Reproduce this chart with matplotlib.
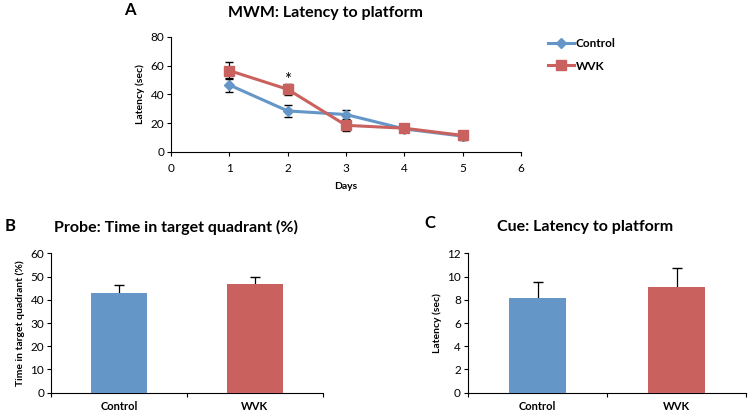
import matplotlib
matplotlib.use("Agg")
import matplotlib.pyplot as plt

plt.rcParams['font.family'] = ['Lato', 'DejaVu Sans']

# Panel A data
days = [1, 2, 3, 4, 5]
control_lat = [46.5, 28.5, 26, 16, 11]
control_err = [5, 4, 3, 2, 2]
wvk_lat = [56.5, 43.5, 18.5, 16.5, 11.5]
wvk_err = [6, 4, 4, 2.5, 3]

# Panel B / C data
groups = ['Control', 'WVK']
probe_vals = [43, 47]
probe_err = [3.5, 3]
cue_vals = [8.2, 9.1]
cue_err = [1.3, 1.6]

blue = '#6496c8'
red = '#c9625f'

fig = plt.figure(figsize=(7.51, 4.17), dpi=100)

def style(ax):
    ax.spines['top'].set_visible(False)
    ax.spines['right'].set_visible(False)
    ax.tick_params(direction='out', length=3, width=0.8, labelsize=8.5, pad=2)

# A
axA = fig.add_axes([0.2277, 0.6355, 0.466, 0.2765])
c1 = axA.errorbar(days, control_lat, yerr=control_err, color=blue, marker='D', markersize=5,
                  lw=2.2, ecolor='black', elinewidth=0.9, capsize=3, zorder=3)
c2 = axA.errorbar(days, wvk_lat, yerr=wvk_err, color=red, marker='s', markersize=7,
                  lw=2.2, ecolor='black', elinewidth=0.9, capsize=3, zorder=4)
axA.text(2, 50, '*', ha='center', va='center', fontsize=12)
axA.set_xlim(0, 6)
axA.set_ylim(0, 80)
axA.set_xticks(range(7))
axA.set_yticks(range(0, 81, 20))
axA.set_xlabel('Days', fontsize=7.5, fontweight='bold', labelpad=6)
axA.set_ylabel('Latency (sec)', fontsize=7.5, fontweight='bold', labelpad=4)
style(axA)
axA.tick_params(axis='x', pad=5)
leg = axA.legend([c1.lines[0], c2.lines[0]], ['Control', 'WVK'], loc='upper left',
                 bbox_to_anchor=(0.715, 0.935), bbox_transform=fig.transFigure,
                 frameon=False, fontsize=8.5, handlelength=2.2, labelspacing=1.0, handletextpad=0.2)
for t in leg.get_texts():
    t.set_fontweight('bold')
fig.text(0.433, 0.97, 'MWM: Latency to platform', ha='center', va='center', fontsize=11.5, fontweight='bold')
fig.text(0.173, 0.975, 'A', ha='center', va='center', fontsize=12, fontweight='bold')

# B and C
def bar_panel(rect, vals, errs, ymax, ystep, ylabel, title, title_x):
    ax = fig.add_axes(rect)
    x = [0.5, 1.5]
    ax.errorbar(x, vals, yerr=errs, fmt='none', ecolor='black', elinewidth=0.9,
                capsize=3.5, zorder=2)
    ax.bar(x, vals, width=0.41, color=[blue, red], zorder=3)
    ax.set_xlim(0, 2)
    ax.set_ylim(0, ymax)
    ax.set_yticks([i * ystep for i in range(int(round(ymax / ystep)) + 1)])
    ax.set_xticks([0, 1, 2])
    ax.set_xticklabels([])
    ax.set_xticks(x, minor=True)
    ax.set_xticklabels(groups, minor=True, fontsize=8, fontweight='bold')
    ax.set_ylabel(ylabel, fontsize=7.5, fontweight='bold', labelpad=4)
    style(ax)
    ax.tick_params(axis='x', which='minor', length=0, pad=6)
    fig.text(title_x, 0.455, title, ha='center', va='center', fontsize=11.5, fontweight='bold')
    return ax

axB = bar_panel([0.0679, 0.0583, 0.362, 0.334], probe_vals, probe_err, 60, 10,
                'Time in target quadrant (%)', 'Probe: Time in target quadrant (%)', 0.235)
fig.text(0.013, 0.458, 'B', ha='center', va='center', fontsize=12, fontweight='bold')
axC = bar_panel([0.623, 0.0583, 0.371, 0.334], cue_vals, cue_err, 12, 2,
                'Latency (sec)', 'Cue: Latency to platform', 0.779)
fig.text(0.573, 0.465, 'C', ha='center', va='center', fontsize=12, fontweight='bold')

fig.savefig('out.png', dpi=100)
